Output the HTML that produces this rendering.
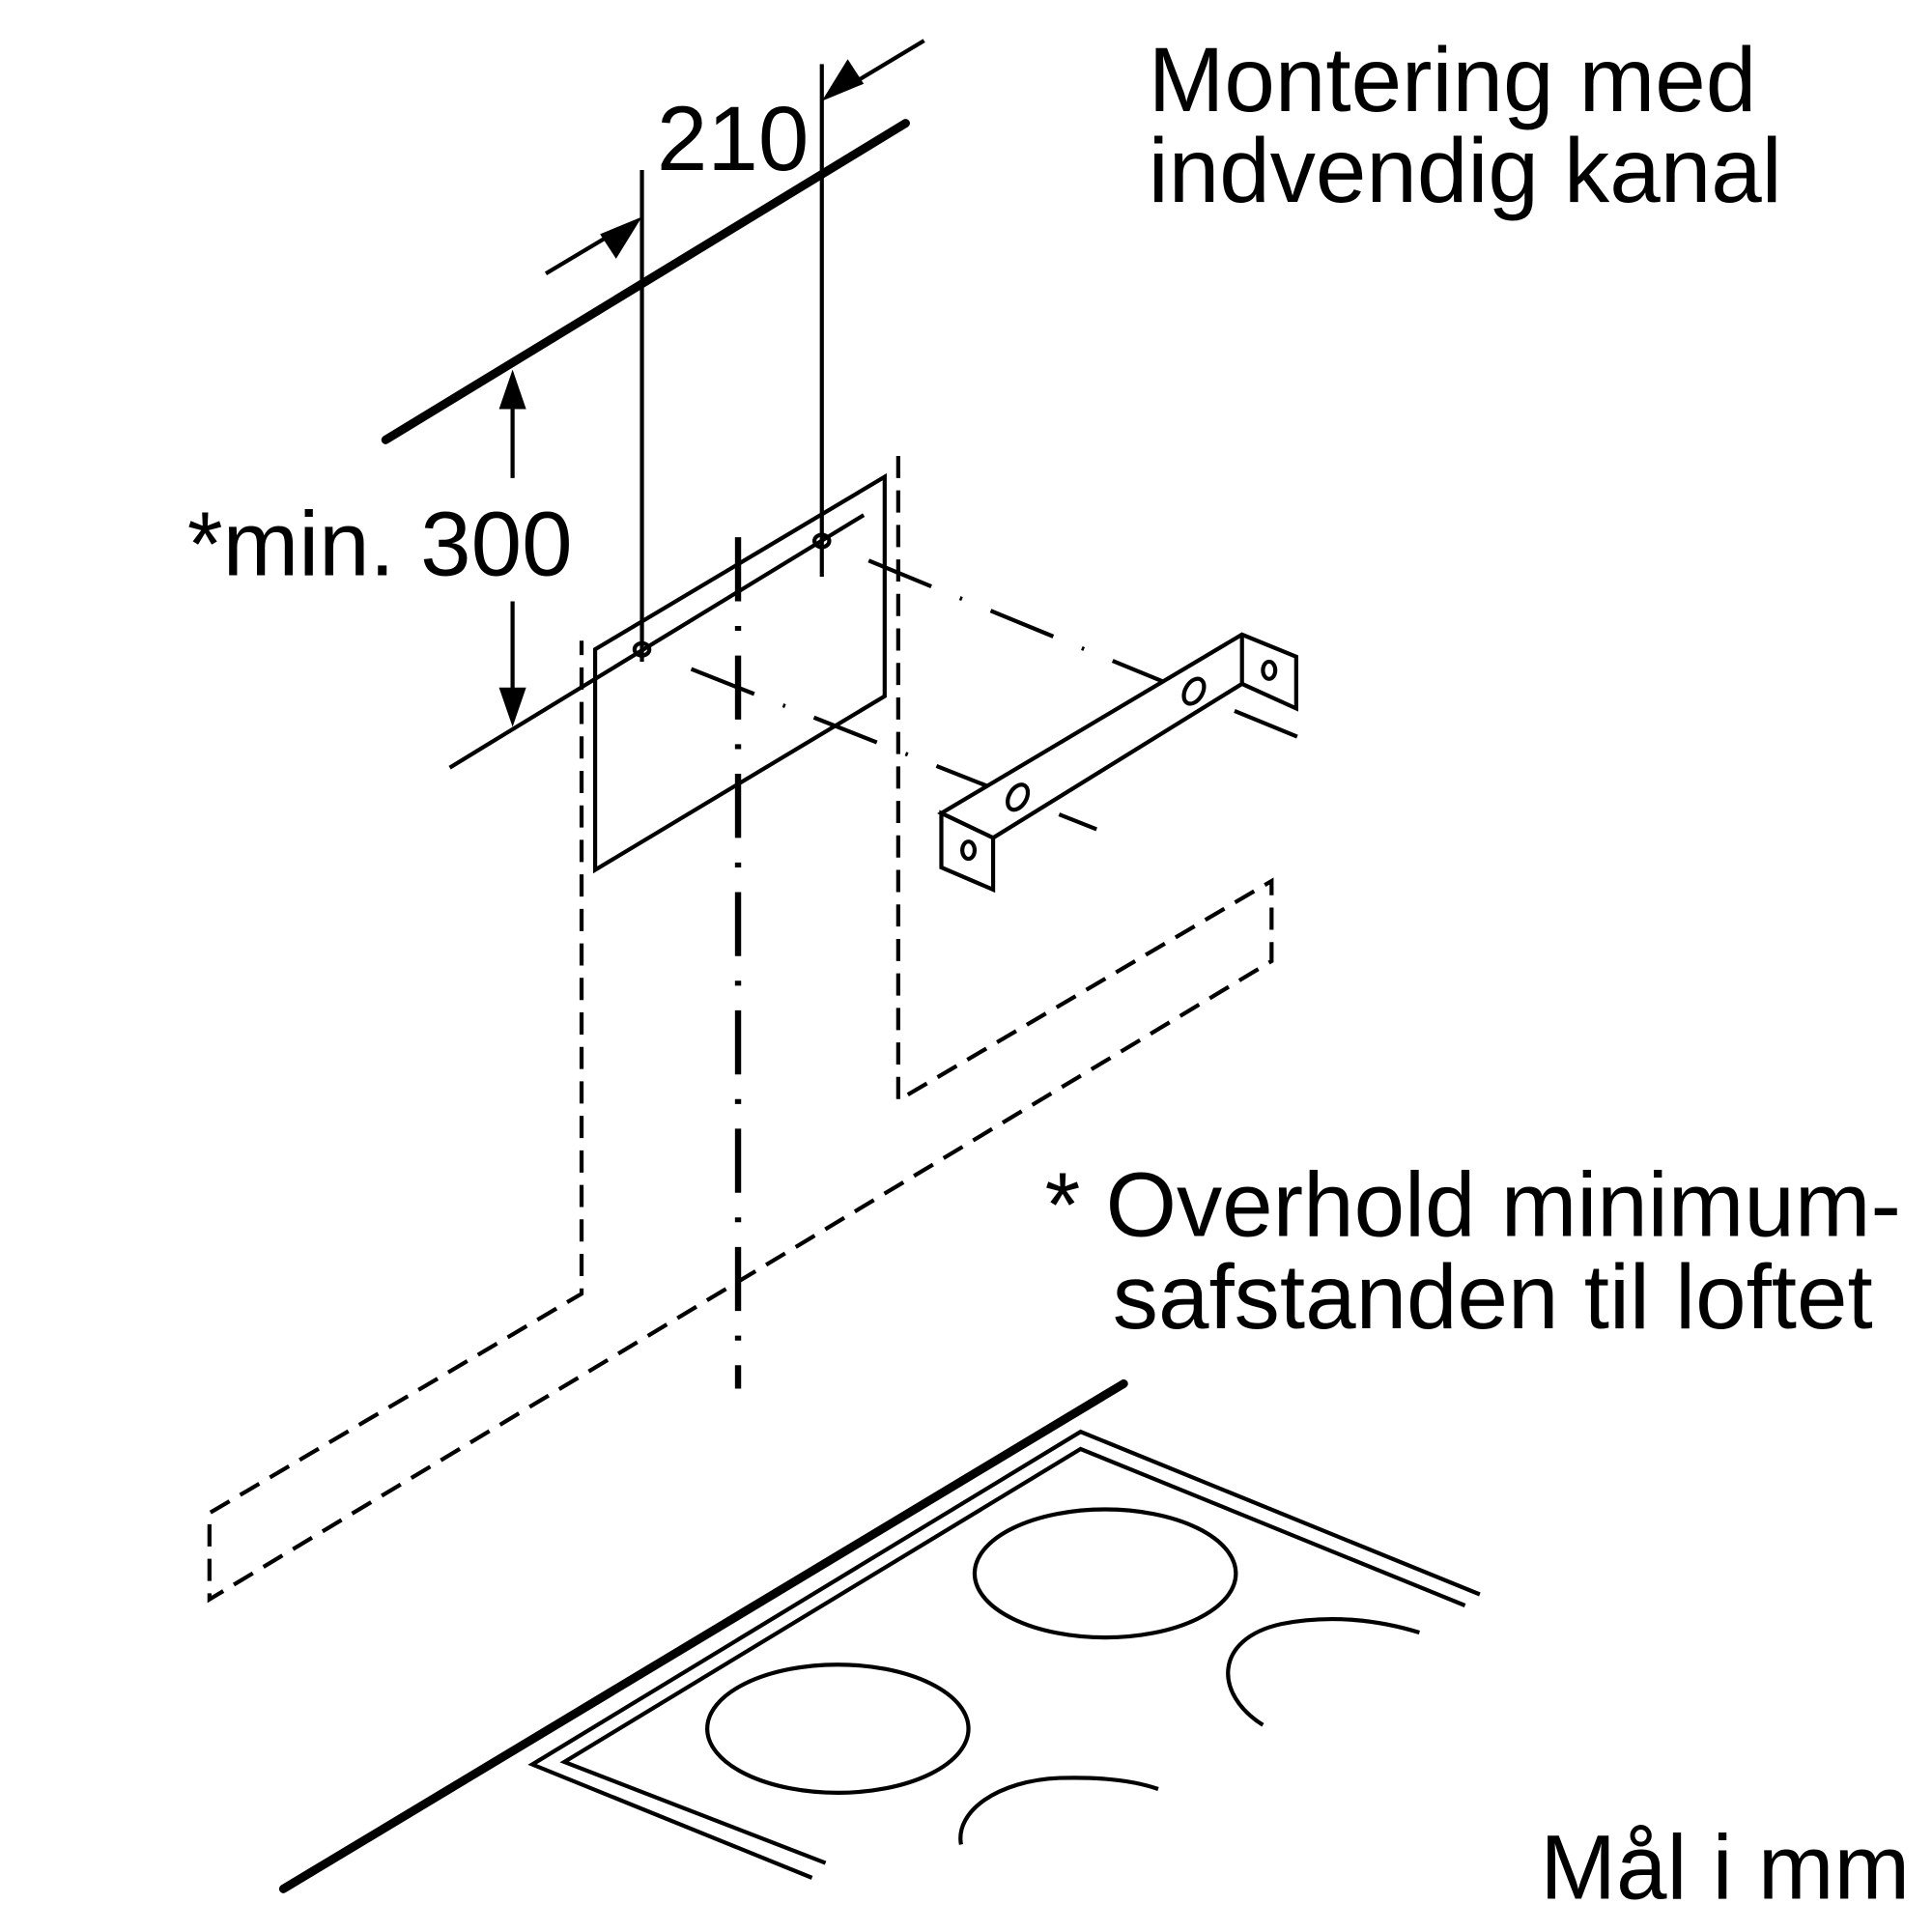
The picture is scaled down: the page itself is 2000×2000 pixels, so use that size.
<!DOCTYPE html>
<html><head><meta charset="utf-8"><style>html,body{margin:0;padding:0;background:#fff}svg{display:block}</style></head>
<body>
<svg width="2000" height="2000" viewBox="0 0 1568 1568" xmlns="http://www.w3.org/2000/svg">
<g stroke="#000" fill="none" stroke-width="3.3">
<line x1="313" y1="357" x2="735" y2="100" stroke-width="7" stroke-linecap="round"/>
<line x1="521" y1="138" x2="521" y2="537"/>
<line x1="667" y1="52" x2="667" y2="468"/>
<line x1="443" y1="222" x2="500" y2="188"/>
<line x1="750" y1="33" x2="690" y2="69"/>
<line x1="416" y1="330" x2="416" y2="388"/>
<line x1="416" y1="488" x2="416" y2="560"/>
<line x1="365" y1="623" x2="701" y2="418"/>
<polygon points="483,527 718,387 718,565 483,706"/>
<ellipse cx="521" cy="527" rx="6" ry="5"/>
<ellipse cx="667" cy="439" rx="6" ry="5"/>
<line x1="599" y1="436" x2="599" y2="1127" stroke-width="5" stroke-dasharray="52,20,4,20"/>
<line x1="561" y1="543" x2="890" y2="673" stroke-dasharray="55,25,2,25"/>
<line x1="705" y1="455" x2="1058" y2="600" stroke-dasharray="55,25,2,25"/>
<g stroke-dasharray="18,10">
<polyline points="729,370 729,893 1032,715 1032,780 170,1298 170,1228 472,1050 472,520"/>
</g>
<polygon points="764,660 1008,515 1052,533 1052,575 1008,555 806,680" fill="#fff"/>
<polygon points="764,660 806,680 806,722 764,704" fill="#fff"/>
<line x1="1008" y1="515" x2="1008" y2="555"/>
<ellipse cx="786" cy="690" rx="5" ry="7"/>
<ellipse cx="1030" cy="544" rx="5" ry="7"/>
<ellipse cx="826" cy="647" rx="7" ry="11" transform="rotate(30 826 647)"/>
<ellipse cx="969" cy="561" rx="7" ry="11" transform="rotate(30 969 561)"/>
<line x1="230" y1="1533" x2="912" y2="1123" stroke-width="7" stroke-linecap="round"/>
<polyline points="659,1524 432,1432 877,1162 1201,1294"/>
<polyline points="670,1512 458,1430 877,1176 1189,1303"/>
<ellipse cx="897" cy="1277" rx="106" ry="52"/>
<ellipse cx="680" cy="1403" rx="106" ry="52"/>
<path d="M1025,1400 C985,1375 985,1330 1040,1318 C1080,1310 1120,1315 1152,1325"/>
<path d="M780,1497 C775,1470 810,1445 860,1443 C895,1442 920,1445 940,1452"/>
</g>
<g fill="#000">
<polygon points="521,176 487,190 500,210"/>
<polygon points="667,82 701,68 688,48"/>
<polygon points="416,300 405,332 427,332"/>
<polygon points="416,590 405,558 427,558"/>
</g>
<g font-family="Liberation Sans, sans-serif" font-size="74" fill="#000">
<text x="533" y="138">210</text>
<text x="152" y="467">*min. 300</text>
<text x="932" y="90">Montering med</text>
<text x="932" y="164">indvendig kanal</text>
<text x="848" y="1003">* Overhold minimum-</text>
<text x="903" y="1078">safstanden til loftet</text>
<text x="1250" y="1541">Mål i mm</text>
</g>
</svg>
</body></html>
